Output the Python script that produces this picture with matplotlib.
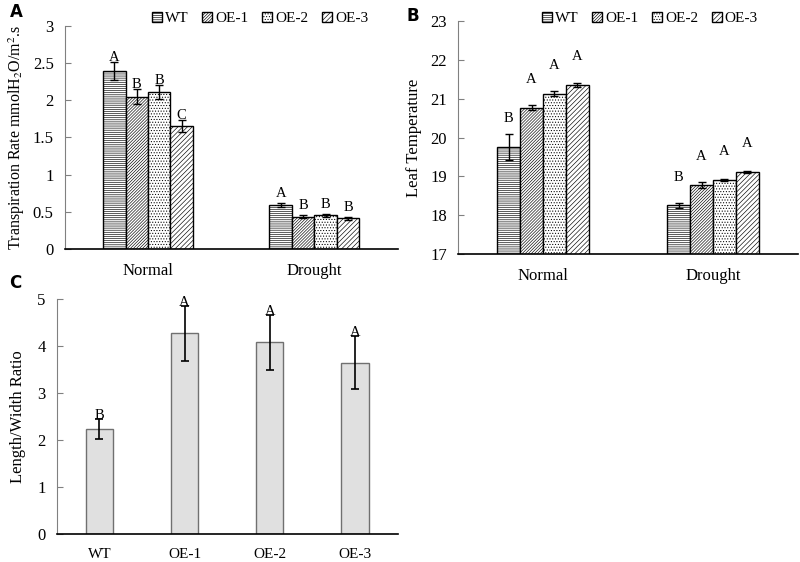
import numpy as np
import matplotlib
matplotlib.use("Agg")
import matplotlib.pyplot as plt

plt.rcParams['font.family'] = ['Liberation Serif', 'DejaVu Serif']
plt.rcParams['mathtext.fontset'] = 'stix'
plt.rcParams['hatch.linewidth'] = 0.45

# Data
genotypes = ["WT", "OE-1", "OE-2", "OE-3"]
conditions = ["Normal", "Drought"]

transp_mean = [[2.39, 2.05, 2.11, 1.65], [0.59, 0.43, 0.45, 0.41]]
transp_err = [[0.12, 0.10, 0.10, 0.08], [0.03, 0.02, 0.02, 0.02]]
transp_letters = [["A", "B", "B", "C"], ["A", "B", "B", "B"]]

leaf_mean = [[19.75, 20.77, 21.13, 21.35], [18.25, 18.77, 18.91, 19.12]]
leaf_err = [[0.33, 0.06, 0.07, 0.05], [0.07, 0.08, 0.02, 0.03]]
leaf_letters = [["B", "A", "A", "A"], ["B", "A", "A", "A"]]

ratio_mean = [2.24, 4.27, 4.08, 3.65]
ratio_err = [0.21, 0.58, 0.58, 0.57]
ratio_letters = ["B", "A", "A", "A"]

hatches = ["-" * 8, "/" * 11, "." * 6, "/" * 7]


def style_axes(ax):
    ax.spines["top"].set_visible(False)
    ax.spines["right"].set_visible(False)
    ax.spines["left"].set_color("#808080")
    ax.spines["bottom"].set_color("black")
    ax.spines["bottom"].set_linewidth(1.2)
    ax.tick_params(axis="y", direction="in", length=4, color="#808080", labelsize=12, pad=8)
    ax.tick_params(axis="x", length=0, labelsize=12, pad=10)


def grouped_bars(ax, means, errs, letters, letter_y):
    width = 0.135
    x = np.arange(len(conditions))
    for i, g in enumerate(genotypes):
        vals = [means[c][i] for c in range(len(conditions))]
        es = [errs[c][i] for c in range(len(conditions))]
        pos = x + (i - 1.5) * width
        ax.bar(pos, vals, width, color="white", edgecolor="black", linewidth=1.0,
               hatch=hatches[i], label=g, zorder=2)
        ax.errorbar(pos, vals, yerr=es, fmt="none", ecolor="black", elinewidth=1,
                    capsize=3, capthick=1, zorder=3)
        for c in range(len(conditions)):
            ax.text(pos[c], letter_y(vals[c], es[c], c), letters[c][i],
                    ha="center", va="center", fontsize=10.5)
    ax.set_xticks(x)
    ax.set_xticklabels(conditions)
    ax.set_xlim(-0.5, 1.5)


def add_legend(ax, anchor):
    ax.legend(loc="upper right", bbox_to_anchor=anchor, ncol=4, frameon=False,
              fontsize=11, handlelength=0.65, handleheight=0.65, handletextpad=0.2,
              columnspacing=0.9, borderaxespad=0)


fig = plt.figure(figsize=(8, 5.62), dpi=100)

# Panel A
axA = fig.add_axes([0.081, 0.557, 0.416, 0.397])
grouped_bars(axA, transp_mean, transp_err, transp_letters,
             lambda v, e, c: v + e + (0.06 if c == 0 else 0.13))
axA.set_ylim(0, 3)
axA.set_yticks([0, 0.5, 1, 1.5, 2, 2.5, 3])
axA.set_yticklabels(["0", "0.5", "1", "1.5", "2", "2.5", "3"])
axA.set_ylabel("Transpiration Rate mmolH$_2$O/m$^2$.s", fontsize=11.5, labelpad=4)
style_axes(axA)
add_legend(axA, (0.93, 1.09))
fig.text(0.012, 0.97, "A", fontsize=12, fontweight="bold", family="DejaVu Sans")

# Panel B
axB = fig.add_axes([0.5725, 0.548, 0.425, 0.4146])
grouped_bars(axB, leaf_mean, leaf_err, leaf_letters, lambda v, e, c: v + 0.73)
style_axes(axB)
axB.set_ylim(17, 23)
axB.set_yticks(range(17, 24))
axB.set_ylabel("Leaf Temperature", fontsize=12, labelpad=6)
add_legend(axB, (0.9, 1.065))
fig.text(0.508, 0.962, "B", fontsize=12, fontweight="bold", family="DejaVu Sans")

# Panel C
axC = fig.add_axes([0.071, 0.0498, 0.426, 0.418])
xc = np.arange(len(genotypes))
axC.bar(xc, ratio_mean, 0.32, color="#e0e0e0", edgecolor="#707070", linewidth=1.0, zorder=2)
axC.errorbar(xc, ratio_mean, yerr=ratio_err, fmt="none", ecolor="black", elinewidth=1.2,
             capsize=3, capthick=1.2, zorder=3)
for i in range(len(genotypes)):
    axC.text(xc[i], ratio_mean[i] + ratio_err[i] + 0.07, ratio_letters[i],
             ha="center", va="center", fontsize=10.5)
axC.set_xticks(xc)
axC.set_xticklabels(genotypes)
axC.set_xlim(-0.5, 3.5)
axC.set_ylim(0, 5)
axC.set_yticks(range(0, 6))
axC.set_ylabel("Length/Width Ratio", fontsize=12, labelpad=8)
style_axes(axC)
axC.tick_params(axis="x", labelsize=11)
fig.text(0.012, 0.487, "C", fontsize=12, fontweight="bold", family="DejaVu Sans")

fig.savefig("out.png", dpi=100)
